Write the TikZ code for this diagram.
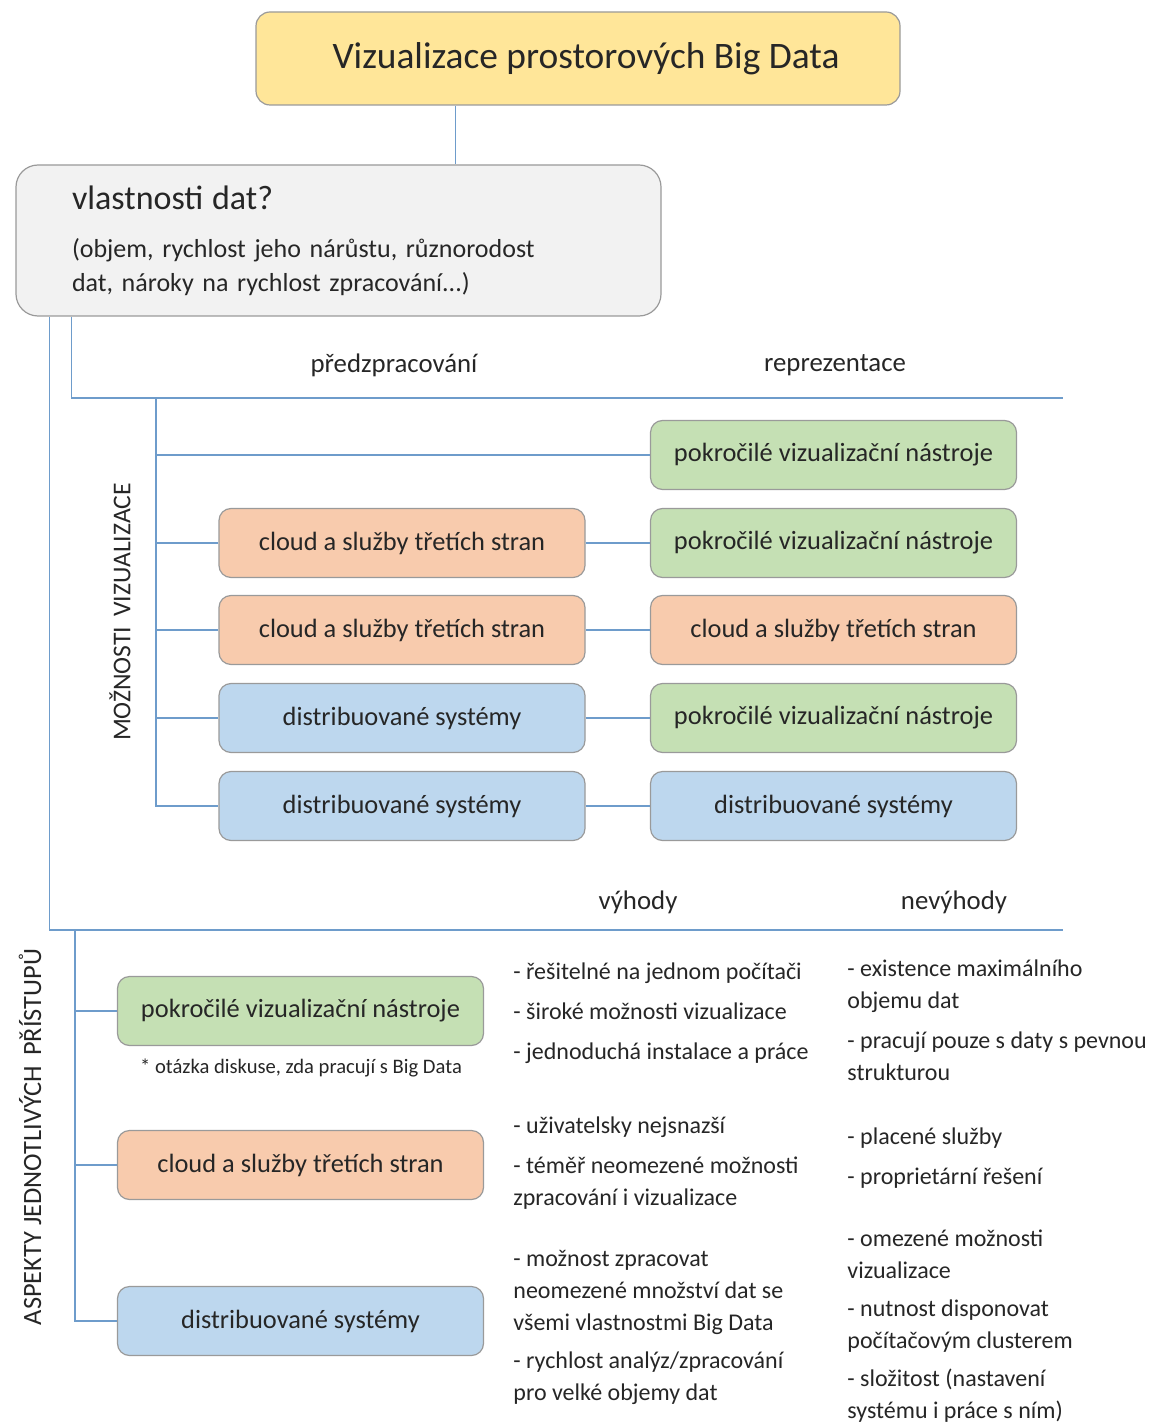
\documentclass[tikz,border=0pt]{standalone}
\usepackage{fontspec}
\setmainfont{Carlito}
\usetikzlibrary{calc}
\definecolor{gold}{HTML}{FFE699}
\definecolor{propgray}{HTML}{F2F2F2}
\definecolor{toolgreen}{HTML}{C5E0B4}
\definecolor{cloudorange}{HTML}{F8CBAD}
\definecolor{distblue}{HTML}{BDD7EE}
\definecolor{boxline}{HTML}{9A9A9A}
\definecolor{linkblue}{HTML}{6E9CCB}
\definecolor{ink}{HTML}{262626}

\begin{document}
\begin{tikzpicture}[x=0.5pt,y=-0.5pt,
 box/.style={draw=boxline,rounded corners=6pt,line width=.6pt,align=center,text=ink,inner sep=0pt,font=\fontsize{13.2}{16}\selectfont},
 option/.style={box,minimum width=183pt,minimum height=34.5pt},
 tool/.style={option,fill=toolgreen},
 cloud/.style={option,fill=cloudorange},
 dist/.style={option,fill=distblue},
 link/.style={draw=linkblue,line width=.8pt},
 head/.style={text=ink,font=\fontsize{13.4}{15}\selectfont},
 side/.style={rotate=90,text=ink,font=\fontsize{12.8}{14}\selectfont},
 pros/.style={anchor=north west,inner sep=0pt,align=left,text=ink,font=\fontsize{12}{16}\selectfont}]
\useasboundingbox (0,0) rectangle (1158,1428);
\node[box,fill=gold,rounded corners=7pt,minimum width=322pt,minimum height=46.5pt,font=\fontsize{18.7}{22}\selectfont] (title) at (578,58.5) {\hspace{8pt}Vizualizace prostorových Big Data};
\node[box,fill=propgray,rounded corners=11pt,minimum width=322.5pt,minimum height=75.5pt,text width=266.5pt,inner xsep=28pt,align=left,font=\fontsize{13}{17}\selectfont] (props) at (338.5,240.5) {{\fontsize{17}{20}\selectfont vlastnosti dat?}\\[7pt](objem, rychlost jeho nárůstu, různorodost\\dat, nároky na rychlost zpracování...)};
\draw[link] ($(title.south west)!.31!(title.south east)$) coordinate (tj) -- (tj |- props.north);
\coordinate (rule1) at (1063,398);
\coordinate (rule2) at (1063,930);
\draw[link] ([xshift=17pt]props.south west) |- (rule2);
\draw[link] ([xshift=28pt]props.south west) |- (rule1);
\node[head] (pre) at (394,365) {předzpracování};
\node[head] (rep) at (835,365) {reprezentace};
\node[side] (moz) at (120,612) {MOŽNOSTI\,\ VIZUALIZACE};
\node[tool] (r0) at (833.5,455) {pokročilé vizualizační nástroje};
\node[cloud] (l1) at (402,543) {cloud a služby třetích stran};
\node[tool] (r1) at (833.5,543) {pokročilé vizualizační nástroje};
\node[cloud] (l2) at (402,630) {cloud a služby třetích stran};
\node[cloud] (r2) at (833.5,630) {cloud a služby třetích stran};
\node[dist] (l3) at (402,718) {distribuované systémy};
\node[tool] (r3) at (833.5,718) {pokročilé vizualizační nástroje};
\node[dist] (l4) at (402,806) {distribuované systémy};
\node[dist] (r4) at (833.5,806) {distribuované systémy};
\coordinate (spine1) at (156,398);
\draw[link] (spine1) |- (l4);
\draw[link] (spine1 |- r0) -- (r0);
\foreach \i in {1,2,3} \draw[link] (spine1 |- l\i) -- (l\i);
\foreach \i in {1,...,4} \draw[link] (l\i) -- (r\i);
\node[head] (vyh) at (638,902) {výhody};
\node[head] (nev) at (954,902) {nevýhody};
\node[side,font=\fontsize{13.2}{14}\selectfont] (asp) at (30,1137) {ASPEKTY JEDNOTLIVÝCH\,\ PŘÍSTUPŮ};
\node[tool] (a1) at (300.5,1011) {pokročilé vizualizační nástroje};
\node[cloud] (a2) at (300.5,1165) {cloud a služby třetích stran};
\node[dist] (a3) at (300.5,1321) {distribuované systémy};
\node[text=ink,font=\fontsize{10.3}{12}\selectfont] (note) at (301,1068) {* otázka diskuse, zda pracují s Big Data};
\coordinate (spine2) at (75,930);
\draw[link] (spine2) |- (a3);
\foreach \i in {1,2} \draw[link] (spine2 |- a\i) -- (a\i);
\node[pros] (vy1) at (513,957) {\strut- řešitelné na jednom počítači\\[4pt]- široké možnosti vizualizace\\[4pt]- jednoduchá instalace a práce};
\node[pros] (vy2) at (513,1111) {\strut- uživatelsky nejsnazší\\[4pt]- téměř neomezené možnosti\\zpracování i vizualizace};
\node[pros] (vy3) at (513,1244) {\strut- možnost zpracovat\\neomezené množství dat se\\všemi vlastnostmi Big Data\\[3pt]- rychlost analýz/zpracování\\pro velké objemy dat};
\node[pros] (ne1) at (847,954) {\strut- existence maximálního\\objemu dat\\[4pt]- pracují pouze s daty s pevnou\\strukturou};
\node[pros] (ne2) at (847,1122) {\strut- placené služby\\[4pt]- proprietární řešení};
\node[pros] (ne3) at (847,1224) {\strut- omezené možnosti\\vizualizace\\[3pt]- nutnost disponovat\\počítačovým clusterem\\[3pt]- složitost (nastavení\\systému i práce s ním)};
\end{tikzpicture}
\end{document}
